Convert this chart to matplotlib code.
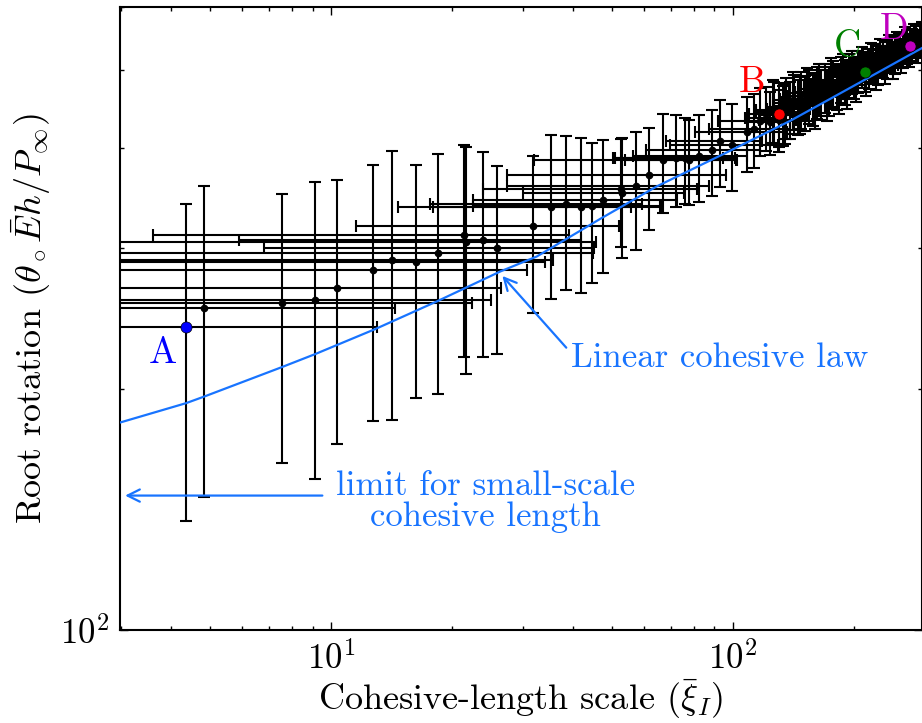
import numpy as np
import matplotlib
matplotlib.use('Agg')
import matplotlib.pyplot as plt
from matplotlib.ticker import NullFormatter

plt.rcParams['font.family'] = 'serif'
plt.rcParams['font.serif'] = ['cmr10']
plt.rcParams['mathtext.fontset'] = 'cm'
plt.rcParams['axes.unicode_minus'] = False
plt.rcParams['axes.formatter.use_mathtext'] = True

# measured root rotation vs cohesive-length scale (symmetric errors)
xi = [4.83, 7.55, 9.14, 10.33, 12.7, 14.2, 16.3, 18.5, 21.4, 21.7, 23.9, 25.9,
      31.8, 35.2, 38.5, 41.9, 44.5, 47.5, 52.6, 52.9, 57.4, 61.8, 67.1, 72.3,
      76.0, 77.9, 82.5, 88.9, 93.0, 99.7, 108.4, 113.2, 117.0,
      121, 124, 127, 133, 136, 139, 142, 145, 148, 151, 155, 158, 162, 166,
      170, 174, 178, 182, 186, 190, 195, 200, 205, 218, 224, 230, 236, 242,
      248, 254, 260, 266, 272, 280, 286, 292,
      126, 130, 135, 141, 147, 153, 160, 164, 172, 176, 184, 188, 193, 198,
      203, 210, 215, 221, 227, 233, 239, 245, 251, 257, 263, 269, 275, 283,
      289, 295]
theta = [252.8, 256.3, 258.3, 267.6, 281.6, 289.8, 288.1, 295.3, 311.4, 304.8,
         307.4, 300.3, 319.6, 337.3, 340.2, 337.6, 338.2, 344.5, 355.6, 351.5,
         358.3, 369.8, 386.5, 388.2, 388.2, 386.7, 391.2, 397.7, 408.6, 403.9,
         418.4, 422.5, 432.7,
         436, 431, 444, 440, 450, 447, 455, 451, 460, 456, 465, 461, 470, 467,
         476, 472, 481, 478, 487, 484, 493, 490, 499, 503, 510, 508, 517, 515,
         523, 522, 530, 529, 536, 539, 543, 546,
         446, 434, 443, 459, 453, 468, 458, 474, 466, 484, 474, 492, 480, 498,
         488, 505, 495, 512, 501, 520, 509, 526, 515, 533, 522, 540, 530, 546,
         536, 550]
xi_err = [9.6, 14.9, 15.9, 16.2, 18.0, 21.5, 17.8, 26.4, 17.8, 24.0, 18.0, 19.1,
          20.3, 20.5, 20.9, 24.0, 22.0, 25.0, 28.7, 22.8, 30.0, 34.4, 35.2, 22,
          25, 24, 26, 28, 25, 30, 28, 26, 25,
          14, 15, 13, 16, 15, 17, 16, 18, 17, 19, 18, 20, 19, 21,
          20, 22, 21, 23, 22, 24, 23, 25, 24, 26, 27, 28, 29, 30,
          31, 32, 33, 34, 35, 36, 37, 38,
          12, 14, 13, 15, 16, 15, 17, 16, 18, 17, 19, 18, 20, 19,
          21, 20, 22, 21, 23, 22, 24, 23, 25, 24, 26, 25, 27, 26,
          28, 27]
theta_err = [106, 94.5, 104, 97, 99, 107, 93, 98, 92, 96, 88, 79,
             71, 78, 74, 74, 67, 65, 55, 60, 60, 54, 55, 51,
             48, 47, 49, 49, 51, 50, 45, 45, 42,
             40, 39, 40, 38, 39, 37, 38, 36, 37, 36, 36, 35, 35, 34,
             34, 33, 33, 32, 32, 31, 31, 30, 30, 29, 29, 28, 28, 27,
             27, 27, 26, 26, 26, 25, 25, 25,
             40, 39, 38, 38, 37, 36, 36, 35, 34, 34, 33, 32, 32, 31,
             31, 30, 30, 29, 29, 28, 28, 27, 27, 26, 26, 26, 25, 25,
             25, 25]

# highlighted specimens
mark_names = ['A', 'B', 'C', 'D']
mark_xi = [4.35, 130, 212.8, 276.5]
mark_theta = [238.9, 441.6, 498.3, 536.6]
mark_xi_err = [8.65, 20, 26, 34]
mark_theta_err = [102, 40, 29, 25]
mark_colors = ['#0000ff', '#ff0000', '#008000', '#bf00bf']
label_xi = [3.82, 111.6, 192.4, 252.3]
label_theta = [221.8, 482.5, 534, 562]

# linear cohesive law curve
law_xi = [2.98, 4.35, 4.83, 7.54, 9.12, 12.87, 18.33, 26.36, 32.52, 46.75,
          64.7, 94.8, 139, 165.1, 219.9, 296.2]
law_theta = [181.6, 192.0, 195.7, 213.0, 221.1, 237.6, 257.3, 280.4, 292.8,
             326.2, 358.2, 393.1, 432.5, 453.5, 491.0, 533.4]
small_scale_limit = 147.2

law_color = '#1874ff'

fig = plt.figure(figsize=(9.22, 7.23), dpi=100)
ax = fig.add_axes([120 / 922, 93 / 723, 801.5 / 922, 623 / 723])
ax.set_xscale('log')
ax.set_yscale('log')

ax.errorbar(xi, theta, xerr=xi_err, yerr=theta_err, fmt='o', color='k',
            ms=4.5, elinewidth=1.5, capsize=4, capthick=1.5, zorder=2)
ax.errorbar(mark_xi, mark_theta, xerr=mark_xi_err, yerr=mark_theta_err,
            fmt='none', ecolor='k', elinewidth=1.5, capsize=4, capthick=1.5,
            zorder=2)
ax.plot(law_xi, law_theta, '-', color=law_color, lw=1.6, zorder=3)
for name, x, y, c, lx, ly in zip(mark_names, mark_xi, mark_theta, mark_colors,
                                 label_xi, label_theta):
    ax.plot(x, y, 'o', color=c, mec='k', mew=0.5, ms=8, zorder=4)
    ax.text(lx, ly, name, color=c, fontsize=27, ha='center', va='center')

ax.annotate('', xy=(26.4, 278.5), xytext=(38.9, 223.9),
            arrowprops=dict(arrowstyle='->', color=law_color, lw=1.6,
                            mutation_scale=22))
ax.text(39.6, 218.8, 'Linear cohesive law', color=law_color, fontsize=25,
        ha='left', va='center')
ax.annotate('', xy=(3.02, small_scale_limit), xytext=(9.66, small_scale_limit),
            arrowprops=dict(arrowstyle='->', color=law_color, lw=1.6,
                            mutation_scale=22))
ax.text(24.2, 144.7, 'limit for small-scale\ncohesive length', color=law_color,
        fontsize=25, ha='center', va='center', linespacing=1.0)

ax.set_xlim(2.98, 295)
ax.set_ylim(100, 600)
ax.yaxis.set_minor_formatter(NullFormatter())
ax.xaxis.set_minor_formatter(NullFormatter())
ax.tick_params(which='both', direction='in', top=True, right=True,
               labelsize=25, width=1)
ax.tick_params(which='major', length=6, pad=8)
ax.tick_params(which='minor', length=3)
for s in ax.spines.values():
    s.set_linewidth(1.5)

ax.set_xlabel(r'Cohesive-length scale $(\bar{\xi}_I)$', fontsize=26, labelpad=1)
ax.set_ylabel(r'Root rotation $(\theta_\circ\bar{E}h/P_\infty)$', fontsize=26,
              labelpad=5)

fig.savefig('out.png', dpi=100)
